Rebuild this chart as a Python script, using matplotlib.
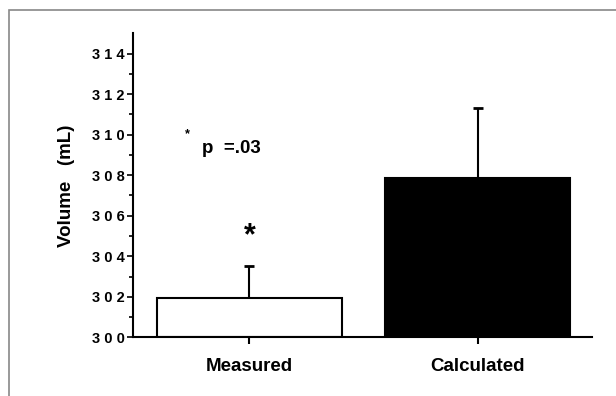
import matplotlib.pyplot as plt
from matplotlib.patches import Rectangle

# Data
groups = ['Measured', 'Calculated']
volume = [301.92, 307.85]
error_up = [1.6, 3.45]
bar_fill = ['white', 'black']
y_ticks = [300, 302, 304, 306, 308, 310, 312, 314]
y_tick_labels = [' '.join(str(v)) for v in y_ticks]

plt.rcParams['font.family'] = ['Liberation Sans', 'DejaVu Sans']
plt.rcParams['font.weight'] = 'bold'

fig = plt.figure(figsize=(6.16, 3.96), dpi=100)
ax = fig.add_axes([0.216, 0.148, 0.745, 0.768])

# thin grey frame around the whole picture
fig.patches.append(Rectangle((0.015, -0.01), 1.0, 0.985, transform=fig.transFigure,
                             fill=False, edgecolor='#888888', linewidth=1.2))

x = range(len(groups))
base = 300
ax.bar(x, [v - base for v in volume], bottom=base, width=0.81,
       color=bar_fill, edgecolor='black', linewidth=1.5, zorder=2)
ax.errorbar(x, volume, yerr=[[0] * len(volume), error_up], fmt='none',
            ecolor='black', elinewidth=1.5, capsize=3.5, capthick=2, zorder=1)

ax.set_ylim(300, 315)
ax.set_xlim(-0.51, 1.50)
ax.set_yticks(y_ticks)
ax.set_yticklabels(y_tick_labels, fontsize=10.5, fontweight='bold')
ax.set_yticks(range(301, 315, 2), minor=True)
ax.set_xticks(list(x))
ax.set_xticklabels(groups, fontsize=13.5, fontweight='bold')
ax.tick_params(axis='x', length=5, width=1.5, pad=10)
ax.tick_params(axis='y', which='major', length=4, width=1.2, pad=2)
ax.tick_params(axis='y', which='minor', length=3, width=1.2)

for side in ['top', 'right']:
    ax.spines[side].set_visible(False)
ax.spines['left'].set_linewidth(1.5)
ax.spines['bottom'].set_linewidth(1.5)

ax.set_ylabel('Volume   (mL)', fontsize=13.5, fontweight='bold', labelpad=12)

# significance annotations
ax.text(0.0, 305.0, '*', fontsize=22, fontweight='bold', ha='center', va='center')
ax.text(-0.27, 310.0, '*', fontsize=9, fontweight='bold', ha='center', va='center')
ax.text(-0.21, 309.3, 'p  =.03', fontsize=13.5, fontweight='bold', ha='left', va='center')

fig.savefig('out.png', dpi=100)
